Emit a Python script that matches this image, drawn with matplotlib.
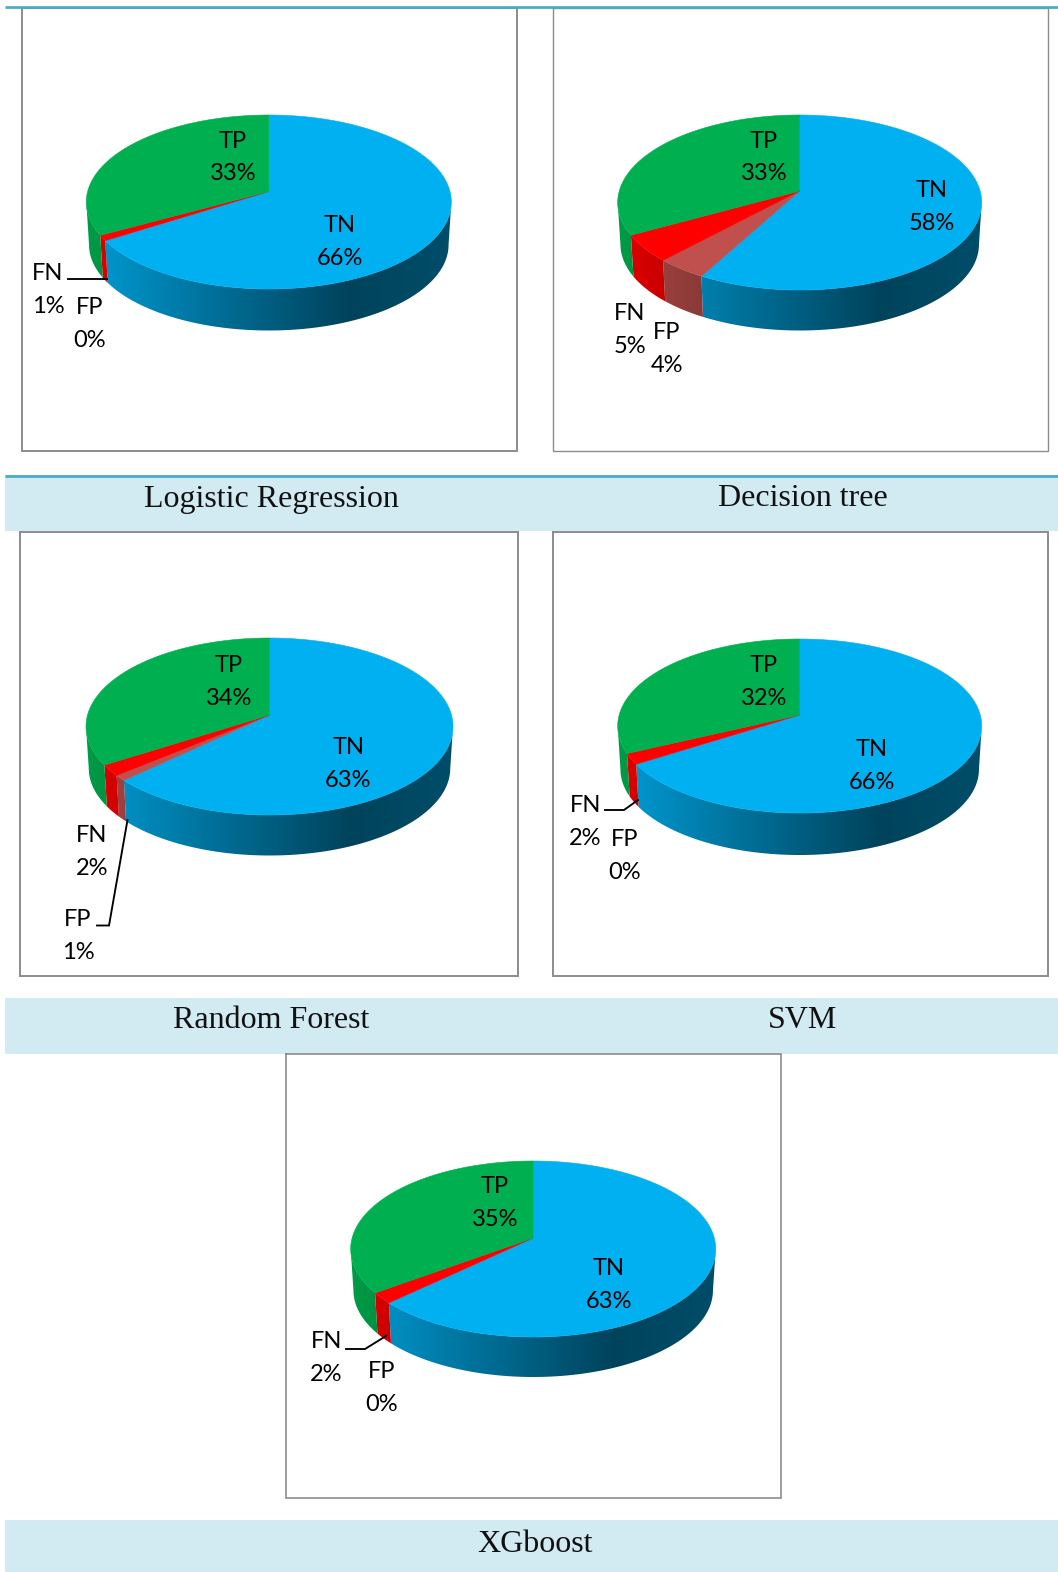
import numpy as np
import matplotlib
matplotlib.use("Agg")
import matplotlib.pyplot as plt
from matplotlib.patches import Polygon
from matplotlib.colors import to_rgb

# Confusion-matrix shares in percent, per model
models = ["Logistic Regression", "Decision tree", "Random Forest", "SVM", "XGboost"]
segments = ["TN", "FP", "FN", "TP"]
tn = [66, 58, 63, 66, 63]
fp = [0, 4, 1, 0, 0]
fn = [1, 5, 2, 2, 2]
tp = [33, 33, 34, 32, 35]
segment_colors = {"TN": "#00B0F0", "FP": "#C0504D", "FN": "#FF0000", "TP": "#00B050"}

W, H = 1058, 1572
LABEL_FONT = "Lato"
LABEL_SIZE = 17
LINE_GAP = 33

# Pie geometry in pixels: centre x, apex y, half width, rim top, rim bottom, side bottom
pie_geometry = [
    (268.8, 191.5, 182.5, 115, 289, 330.5),
    (799.7, 191.0, 182.0, 115, 290, 330.5),
    (269.5, 715.0, 183.5, 638, 815, 855.5),
    (799.7, 715.0, 182.0, 639, 813, 855.0),
    (533.2, 1238.0, 182.5, 1161, 1337, 1377.0),
]
# Chart frames: left, top, right, bottom, line width
frames = [
    (21.5, 8, 517, 451, 1.4),
    (552.5, 8, 1048, 451, 1.0),
    (19.5, 531.5, 518, 975.5, 1.4),
    (552.5, 531.5, 1048, 975.5, 1.4),
    (286, 1054, 781, 1498, 1.2),
]
# Label centres per model, in the same order as the segments
label_positions = [
    {"TN": (340, 242), "FP": (89.5, 324), "FN": (48, 290), "TP": (233, 157.5)},
    {"TN": (932, 207), "FP": (667, 349), "FN": (630, 330), "TP": (764, 157.5)},
    {"TN": (348.5, 764), "FP": (78, 936), "FN": (92, 852), "TP": (229, 682)},
    {"TN": (871.5, 766), "FP": (625, 856), "FN": (585.5, 822), "TP": (764, 682)},
    {"TN": (609, 1285), "FP": (382, 1388), "FN": (326.5, 1358), "TP": (495, 1203)},
]
# Leader lines as (x, y) runs
leaders = [
    [(68, 279), (107, 279)],
    [],
    [(97, 925.5), (109, 925.5), (127.5, 820)],
    [(605, 810), (624, 810), (638, 800)],
    [(346, 1349), (365, 1349), (386, 1336)],
]
bands = [(475, 531), (998, 1054), (1520, 1572)]
titles_xy = [(271, 499), (803, 499), (271, 1021), (803, 1021), (535.5, 1544)]

fig = plt.figure(figsize=(W / 100, H / 100), dpi=100, facecolor="white")
ax = fig.add_axes([0, 0, 1, 1])


def tilt(geom):
    """Perspective strength and vertical scale of the tilted pie plane."""
    _, ay, _, top, bottom, _ = geom
    up, down = ay - top, bottom - ay
    k = (down - up) / (down + up)
    return k, up * (1 + k)


def rim(theta, geom, scale=1.0, drop=0.0):
    """Project a clockwise-from-top circle angle onto the tilted pie plane."""
    cx, ay, rx = geom[:3]
    k, a = tilt(geom)
    s = rx * np.sqrt(1 - k ** 2)
    X, Y = np.sin(theta), np.cos(theta)
    w = 1 + k * Y
    return cx + scale * s * X / w, ay + drop - scale * a * Y / w


def side_shade(frac):
    return np.interp(frac, [0, 0.72, 1], [0.88, 0.38, 0.44])


def draw_pie(index):
    geom = pie_geometry[index]
    cx, ay, rx, top, bottom, side_bottom = geom
    scale = 0.985
    drop = side_bottom - ay - (bottom - ay) * scale
    values = dict(zip(segments, (tn[index], fp[index], fn[index], tp[index])))

    start = 0.0
    spans = []
    for name in segments:
        end = start + values[name] / 100 * 2 * np.pi
        spans.append((name, start, end))
        start = end

    # Only the arc between the widest rim points faces the viewer
    k, _ = tilt(geom)
    front_start = np.arccos(-k)
    front_end = 2 * np.pi - front_start

    # Extruded side wall: a horizontal gradient clipped to each segment's band
    ramp = side_shade(np.linspace(0, 1, 512))[None, :, None]
    for name, a0, a1 in spans:
        a0, a1 = max(a0, front_start), min(a1, front_end)
        if a1 - a0 < 1e-6:
            continue
        t = np.linspace(a0, a1, max(3, int((a1 - a0) / np.radians(0.5))))
        x0, y0 = rim(t, geom)
        x1, y1 = rim(t, geom, scale, drop)
        outline = np.c_[np.r_[x0, x1[::-1]], np.r_[y0, y1[::-1]]]
        base = np.array(to_rgb(segment_colors[name]))[None, None, :]
        img = ax.imshow(ramp * base, extent=(cx - rx, cx + rx, side_bottom + 2, top),
                        aspect="auto", interpolation="bilinear", zorder=2)
        img.set_clip_path(Polygon(outline, closed=True, transform=ax.transData))

    # Top face
    for name, a0, a1 in spans:
        if a1 - a0 < 1e-6:
            continue
        t = np.linspace(a0, a1, max(3, int((a1 - a0) / np.radians(0.5))))
        x, y = rim(t, geom)
        ax.fill(np.r_[cx, x], np.r_[ay, y], color=segment_colors[name], lw=0.4, zorder=3)

    # Leader lines and labels
    if leaders[index]:
        lx, ly = zip(*leaders[index])
        ax.plot(lx, ly, color="black", lw=1.35, zorder=4, solid_joinstyle="miter")
    for name in segments:
        x, y = label_positions[index][name]
        ax.text(x, y - LINE_GAP / 2, name, family=LABEL_FONT, size=LABEL_SIZE, ha="center", va="center", zorder=5)
        ax.text(x, y + LINE_GAP / 2, f"{values[name]}%", family=LABEL_FONT, size=LABEL_SIZE, ha="center", va="center", zorder=5)


# Caption bands with their teal rule, and the rule along the top edge
for y0, y1 in bands:
    ax.fill_between([5, W], y0, y1, color="#D2EAF1", lw=0, zorder=0)
ax.plot([5, W], [bands[0][0] + 0.5] * 2, color="#4BACC6", lw=2, zorder=1, solid_capstyle="butt")
ax.plot([5, W], [6.5, 6.5], color="#4BACC6", lw=2, zorder=6, solid_capstyle="butt")

for (x0, y0, x1, y1, lw) in frames:
    ax.plot([x0, x1, x1, x0, x0], [y0, y0, y1, y1, y0], color="#8C8C8C", lw=lw, zorder=1, solid_joinstyle="miter")

for i in range(len(models)):
    draw_pie(i)
    tx, ty = titles_xy[i]
    ax.text(tx, ty, models[i], family="Liberation Serif", size=23, color="#111111", ha="center", va="center")

ax.set_xlim(0, W)
ax.set_ylim(H, 0)
ax.axis("off")

fig.savefig("out.png", dpi=100, facecolor="white")
